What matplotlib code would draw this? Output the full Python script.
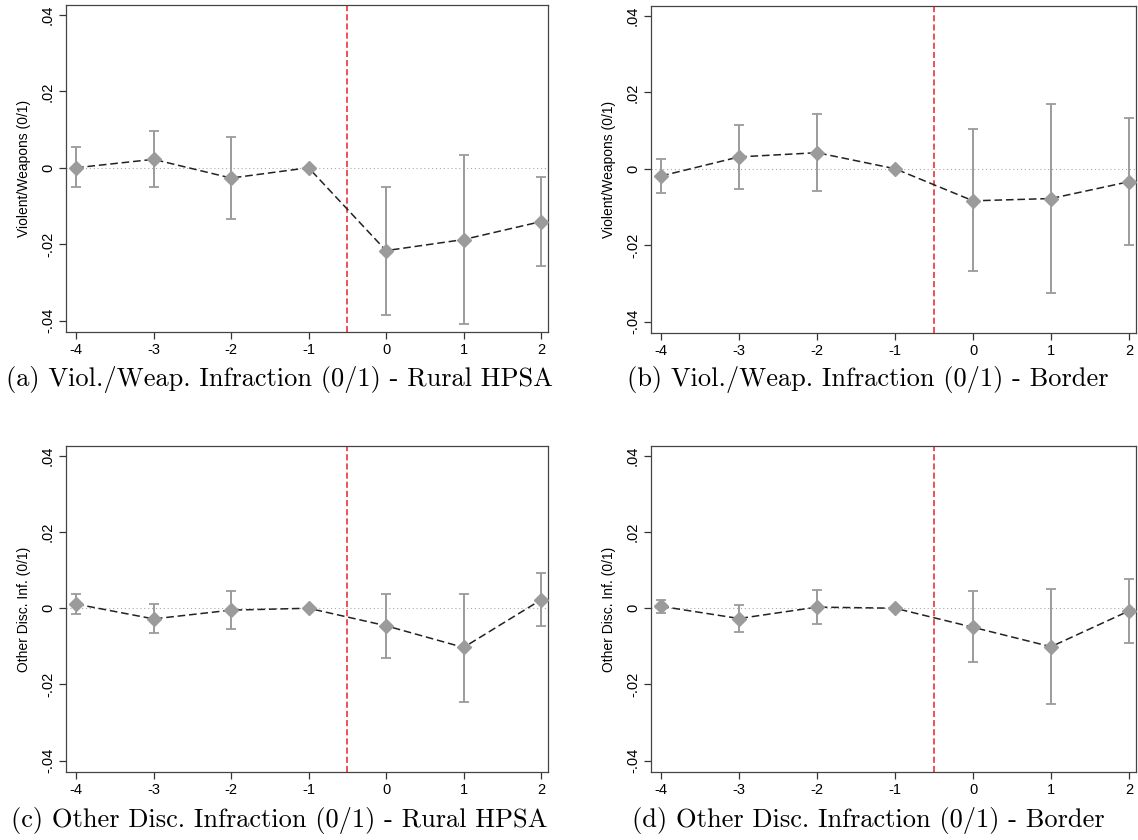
import matplotlib
matplotlib.use("Agg")
import matplotlib.pyplot as plt
from matplotlib.ticker import FuncFormatter

plt.rcParams["axes.unicode_minus"] = False

# event time
periods = [-4, -3, -2, -1, 0, 1, 2]

# (a) violent/weapons - rural HPSA
viol_hpsa = [0.0000, 0.0022, -0.0027, 0.0, -0.0217, -0.0188, -0.0141]
viol_hpsa_hi = [0.0055, 0.0095, 0.0081, 0.0, -0.0050, 0.0033, -0.0025]
viol_hpsa_lo = [-0.0050, -0.0051, -0.0133, 0.0, -0.0385, -0.0409, -0.0256]

# (b) violent/weapons - border
viol_border = [-0.0019, 0.0031, 0.0042, 0.0, -0.0084, -0.0078, -0.0034]
viol_border_hi = [0.0026, 0.0115, 0.0144, 0.0, 0.0103, 0.0170, 0.0132]
viol_border_lo = [-0.0064, -0.0053, -0.0057, 0.0, -0.0269, -0.0325, -0.0200]

# (c) other disc. - rural HPSA
other_hpsa = [0.0011, -0.0028, -0.0005, 0.0, -0.0046, -0.0103, 0.0022]
other_hpsa_hi = [0.0037, 0.0012, 0.0044, 0.0, 0.0038, 0.0038, 0.0092]
other_hpsa_lo = [-0.0015, -0.0065, -0.0054, 0.0, -0.0130, -0.0245, -0.0047]

# (d) other disc. - border
other_border = [0.0005, -0.0027, 0.0003, 0.0, -0.0050, -0.0101, -0.0007]
other_border_hi = [0.0022, 0.0009, 0.0048, 0.0, 0.0044, 0.0050, 0.0078]
other_border_lo = [-0.0013, -0.0062, -0.0041, 0.0, -0.0142, -0.0251, -0.0090]

yticks = [-0.04, -0.02, 0, 0.02, 0.04]

panels = [
    (viol_hpsa, viol_hpsa_lo, viol_hpsa_hi, "Violent/Weapons (0/1)",
     "(a) Viol./Weap. Infraction (0/1) - Rural HPSA"),
    (viol_border, viol_border_lo, viol_border_hi, "Violent/Weapons (0/1)",
     "(b) Viol./Weap. Infraction (0/1) - Border"),
    (other_hpsa, other_hpsa_lo, other_hpsa_hi, "Other Disc. Inf. (0/1)",
     "(c) Other Disc. Infraction (0/1) - Rural HPSA"),
    (other_border, other_border_lo, other_border_hi, "Other Disc. Inf. (0/1)",
     "(d) Other Disc. Infraction (0/1) - Border"),
]

# axes boxes in pixels: left, top, right, bottom
W, H = 1138, 840
boxes = [(66, 5, 548, 332), (651, 6, 1136, 333),
         (66, 446, 548, 772), (651, 446, 1136, 772)]
caption_pos = [(279, 380), (868, 380), (279, 821), (868, 821)]


def stata_fmt(v, pos):
    if abs(v) < 1e-9:
        return "0"
    s = "%.2f" % v
    return s.replace("0.", ".")


fig = plt.figure(figsize=(W / 100, H / 100), dpi=100)

for (y, lo, hi, ylab, cap), (l, t, r, b), (cx, cy) in zip(panels, boxes, caption_pos):
    ax = fig.add_axes([l / W, 1 - b / H, (r - l) / W, (b - t) / H])
    ax.axhline(0, color="#aaaaaa", lw=0.8, ls=(0, (1, 2.5)), zorder=1)
    ax.axvline(-0.5, color="#e8202a", lw=1.1, ls=(0, (4, 2)), zorder=2)
    yerr = [[yy - l_ for yy, l_ in zip(y, lo)], [h_ - yy for yy, h_ in zip(y, hi)]]
    ax.errorbar(periods, y, yerr=yerr, fmt="none", ecolor="#9b9b9b",
                elinewidth=1.4, capsize=3.6, capthick=1.3, zorder=3)
    ax.plot(periods, y, color="#222222", lw=1.1, ls=(0, (5, 2.5)), zorder=4)
    ax.plot(periods, y, ls="none", marker="D", ms=7, color="#9b9b9b",
            markeredgecolor="#9b9b9b", zorder=5)

    ax.set_xlim(-4.13, 2.09)
    ax.set_ylim(-0.043, 0.0426)
    ax.set_xticks(periods)
    ax.set_yticks(yticks)
    ax.yaxis.set_major_formatter(FuncFormatter(stata_fmt))
    for lab in ax.get_xticklabels():
        lab.set_fontfamily("Liberation Sans")
        lab.set_fontsize(10.5)
    for lab in ax.get_yticklabels():
        lab.set_fontfamily("Liberation Sans")
        lab.set_fontsize(10.5)
        lab.set_rotation(90)
        lab.set_va("center")
    ax.tick_params(direction="out", length=5, width=0.9, color="#333333",
                   top=False, right=False, pad=3)
    ax.set_ylabel(ylab, fontfamily="Liberation Sans", fontsize=10, labelpad=7)
    for sp in ax.spines.values():
        sp.set_color("#444444")
        sp.set_linewidth(0.9)

    fig.text(cx / W, 1 - cy / H, cap, ha="center", va="center",
             fontfamily="cmr10", fontsize=19)

fig.savefig("out.png", dpi=100)
